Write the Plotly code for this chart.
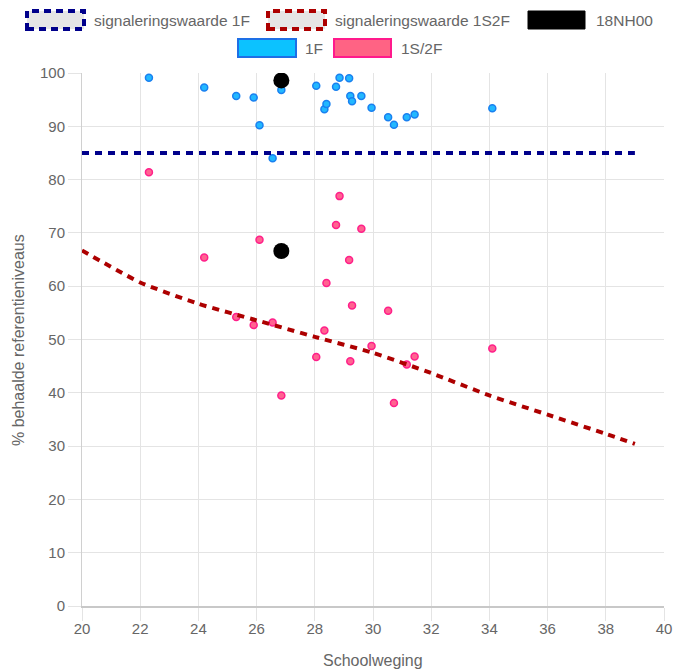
import plotly.graph_objects as go

# ---- data ----
schoolweging = [22.3, 24.2, 25.3, 25.9, 26.1, 26.55, 26.85, 28.05, 28.33, 28.4, 28.73,
                28.85, 29.18, 29.22, 29.28, 29.6, 29.95, 30.52, 30.72, 31.16, 31.43, 34.1]
pct_1F = [99.1, 97.3, 95.7, 95.4, 90.2, 84.0, 96.8, 97.6, 93.2, 94.2, 97.4,
          99.1, 99.0, 95.7, 94.7, 95.7, 93.5, 91.7, 90.3, 91.7, 92.2, 93.4]
pct_1S2F = [81.4, 65.4, 54.2, 52.7, 68.7, 53.2, 39.5, 46.7, 51.7, 60.6, 71.5,
            76.9, 64.9, 45.9, 56.4, 70.8, 48.8, 55.4, 38.1, 45.3, 46.8, 48.3]

school_x = [26.85, 26.85]
school_y = [98.6, 66.6]

sig1F_x = [20, 39]
sig1F_y = [85, 85]
sig1S2F_x = [20, 22, 24, 26, 28, 30, 32, 34, 36, 38, 39]
sig1S2F_y = [66.7, 60.7, 56.7, 53.6, 50.5, 47.5, 43.7, 39.5, 35.9, 32.3, 30.4]

x_ticks = [20, 22, 24, 26, 28, 30, 32, 34, 36, 38, 40]
y_ticks = [0, 10, 20, 30, 40, 50, 60, 70, 80, 90, 100]

W, H = 676, 671
ML, MR, MT, MB = 82, 12, 73, 65
FONT = "Liberation Sans, Arial, sans-serif"
TXT = "#666666"
GRID = "#e4e4e4"


def px(xp):
    return (xp - ML) / (W - ML - MR)


def py(yp):
    return (H - MB - yp) / (H - MT - MB)


fig = go.Figure()
fig.add_trace(go.Scatter(x=schoolweging, y=pct_1S2F, mode="markers", name="1S/2F",
                         marker=dict(size=7, color="#ff6390",
                                     line=dict(color="#ff1f8a", width=1.5)),
                         showlegend=False))
fig.add_trace(go.Scatter(x=schoolweging, y=pct_1F, mode="markers", name="1F",
                         marker=dict(size=7, color="#22b8ff",
                                     line=dict(color="#1a80f0", width=1.5)),
                         showlegend=False))
fig.add_trace(go.Scatter(x=school_x, y=school_y, mode="markers", name="18NH00",
                         marker=dict(size=16, color="black", line=dict(width=0)),
                         showlegend=False))
fig.add_trace(go.Scatter(x=sig1S2F_x, y=sig1S2F_y, mode="lines", name="signaleringswaarde 1S2F",
                         line=dict(color="#ad0000", width=4, dash="7px,6px",
                                   shape="spline", smoothing=0.5),
                         showlegend=False))
fig.add_trace(go.Scatter(x=sig1F_x, y=sig1F_y, mode="lines", name="signaleringswaarde 1F",
                         line=dict(color="#00008b", width=4, dash="7px,6px"),
                         showlegend=False))

# ---- custom legend (boxes + text) ----
shapes = []
annotations = []
legend_items = [
    # (box x0, box x1, center y, text x, label, fill, border color, border dash, border width)
    (27, 84, 20, 92, "signaleringswaarde 1F", "#e6e6e6", "#00008b", "7px,5px", 4),
    (268, 325, 20, 333, "signaleringswaarde 1S2F", "#e6e6e6", "#ad0000", "7px,5px", 4),
    (528, 585, 20, 594, "18NH00", "#000000", "#000000", "solid", 1),
    (238, 296, 48, 303, "1F", "#0cc2ff", "#1e6fe6", "solid", 2),
    (334, 391, 48, 399, "1S/2F", "#ff6384", "#ff1a8c", "solid", 2),
]
for x0, x1, yc, tx, label, fill, bc, bd, bw in legend_items:
    shapes.append(dict(type="rect", xref="paper", yref="paper",
                       x0=px(x0), x1=px(x1), y0=py(yc + 9), y1=py(yc - 9),
                       fillcolor=fill, line=dict(color=bc, width=bw, dash=bd),
                       layer="above"))
    annotations.append(dict(xref="paper", yref="paper", x=px(tx), y=py(yc),
                            xanchor="left", yanchor="middle", showarrow=False,
                            text=label, font=dict(family=FONT, size=15.5, color=TXT)))

annotations.append(dict(xref="paper", yref="paper", x=px(18), y=py(340),
                        xanchor="center", yanchor="middle", showarrow=False,
                        textangle=-90, text="% behaalde referentieniveaus",
                        font=dict(family=FONT, size=16, color=TXT)))
annotations.append(dict(xref="paper", yref="paper", x=px(373), y=py(660),
                        xanchor="center", yanchor="middle", showarrow=False,
                        text="Schoolweging",
                        font=dict(family=FONT, size=16, color=TXT)))

fig.update_layout(
    width=W, height=H, autosize=False,
    margin=dict(l=ML, r=MR, t=MT, b=MB, pad=0),
    paper_bgcolor="white", plot_bgcolor="white",
    font=dict(family=FONT, color=TXT, size=15),
    shapes=shapes, annotations=annotations,
    showlegend=False,
)
fig.update_xaxes(range=[20, 40], tickvals=x_ticks, ticktext=[str(v) for v in x_ticks],
                 automargin=False, ticklabelstandoff=-5,
                 showgrid=True, gridcolor=GRID, gridwidth=1,
                 ticks="outside", ticklen=13, tickcolor=GRID, tickwidth=1,
                 showline=True, linecolor="#c8c8c8", linewidth=1.5, mirror=False,
                 zeroline=False, tickfont=dict(family=FONT, size=15, color=TXT))
fig.update_yaxes(range=[0, 100], tickvals=y_ticks, ticktext=[str(v) for v in y_ticks],
                 automargin=False,
                 showgrid=True, gridcolor=GRID, gridwidth=1,
                 ticks="outside", ticklen=13, tickcolor=GRID, tickwidth=1,
                 showline=True, linecolor="#d0d0d0", linewidth=1, mirror=False,
                 zeroline=False, tickfont=dict(family=FONT, size=15, color=TXT))

fig.write_html("out.html",
               config={"displayModeBar": False, "responsive": False},
               default_width="676px", default_height="671px",
               post_script="document.body.style.margin='0';document.body.style.overflow='hidden';")
